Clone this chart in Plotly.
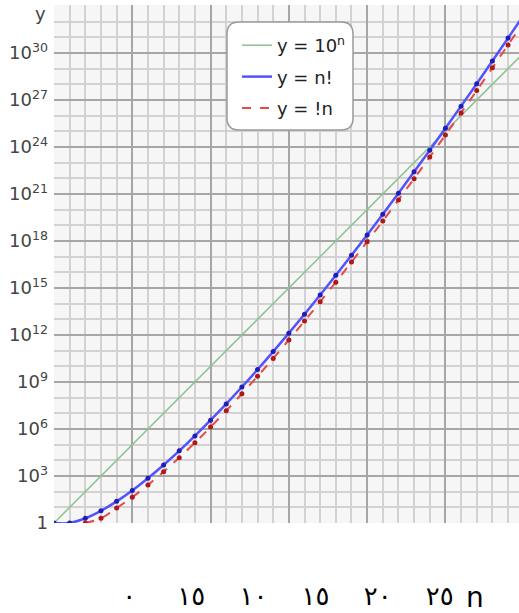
import plotly.graph_objects as go

# ---------------- data ----------------
n_vals = list(range(0, 32))
pow10_vals = [1e0, 1e1, 1e2, 1e3, 1e4, 1e5, 1e6, 1e7, 1e8, 1e9, 1e10, 1e11, 1e12, 1e13, 1e14, 1e15,
              1e16, 1e17, 1e18, 1e19, 1e20, 1e21, 1e22, 1e23, 1e24, 1e25, 1e26, 1e27, 1e28, 1e29, 1e30, 1e31]
factorial_vals = [1, 1, 2, 6, 24, 120, 720, 5040, 40320, 362880, 3628800, 39916800, 479001600,
                  6227020800, 87178291200, 1.307674368e12, 2.0922789888e13, 3.55687428096e14,
                  6.402373705728e15, 1.21645100408832e17, 2.43290200817664e18, 5.109094217170944e19,
                  1.1240007277776077e21, 2.585201673888498e22, 6.204484017332394e23,
                  1.5511210043330986e25, 4.0329146112660565e26, 1.0888869450418352e28,
                  3.0488834461171384e29, 8.841761993739701e30, 2.652528598121911e32,
                  8.222838654177922e33]
subfact_n = list(range(2, 32))
subfact_vals = [1, 2, 9, 44, 265, 1854, 14833, 133496, 1334961, 14684570, 176214841, 2290792932,
                32071101049, 481066515734, 7697064251745, 130850092279664, 2355301661033953,
                44750731559645106, 895014631192902121, 1.879530725505094e19, 4.134967596111206e20,
                9.510425471055775e21, 2.282502113053386e23, 5.706255282633465e24,
                1.483626373484701e26, 4.005791208408693e27, 1.1216215383544341e29,
                3.2527024612278588e30, 9.758107383683576e31, 3.0250132889419087e33]

y_tick_vals = [1, 1e3, 1e6, 1e9, 1e12, 1e15, 1e18, 1e21, 1e24, 1e27, 1e30]
y_tick_text = ["1", "10<sup>3</sup>", "10<sup>6</sup>", "10<sup>9</sup>", "10<sup>12</sup>",
               "10<sup>15</sup>", "10<sup>18</sup>", "10<sup>21</sup>", "10<sup>24</sup>",
               "10<sup>27</sup>", "10<sup>30</sup>"]
y_minor_vals = [10.0 ** k for k in range(0, 34)]
x_label_vals = [0, 5, 10, 15, 20, 25]
x_label_text = ["٠", "١٥", "١٠", "١٥", "٢٠", "٢٥"]
legend_names = ["y = 10<sup>n</sup>", "y = n!", "y = !n"]

# ---------------- geometry (page px; body margin removed in page) ----------------
W, H = 519, 613
ml, mr, mt, mb = 54, 0, 5, 35
pw, ph = W - ml - mr, H - mt - mb

def px_x(p):
    return (p - ml) / pw

def px_y(p):
    return (H - mb - p) / ph

plot_bottom_px = 523

# ---------------- figure ----------------
fig = go.Figure()
fig.add_trace(go.Scatter(x=n_vals, y=pow10_vals, mode="lines", name=legend_names[0],
                         legendgroup="a", line=dict(color="#8fc28f", width=1.5)))
fig.add_trace(go.Scatter(x=n_vals, y=factorial_vals, mode="lines", name=legend_names[1],
                         legendgroup="b", line=dict(color="#5252ff", width=2.5, shape="spline")))
fig.add_trace(go.Scatter(x=n_vals, y=factorial_vals, mode="markers", showlegend=False,
                         legendgroup="b", marker=dict(color="#1f1fb8", size=5)))
fig.add_trace(go.Scatter(x=subfact_n, y=subfact_vals, mode="lines", name=legend_names[2],
                         legendgroup="c", line=dict(color="#e84848", width=2, dash="dash", shape="spline")))
fig.add_trace(go.Scatter(x=subfact_n, y=subfact_vals, mode="markers", showlegend=False,
                         legendgroup="c", marker=dict(color="#b01818", size=5)))
# carrier for the lower label axis
fig.add_trace(go.Scatter(x=[], y=[], xaxis="x2", showlegend=False, hoverinfo="skip"))

fig.update_layout(
    width=W, height=H,
    margin=dict(l=ml, r=mr, t=mt, b=mb),
    paper_bgcolor="white",
    plot_bgcolor="#f6f6f6",
    font=dict(family="DejaVu Sans", color="#444"),
    showlegend=True,
    legend=dict(x=px_x(237), y=px_y(27), xanchor="left", yanchor="top",
                bgcolor="rgba(0,0,0,0)", borderwidth=0,
                font=dict(size=18, color="#222", family="DejaVu Sans"),
                tracegroupgap=5, itemwidth=30),
    xaxis=dict(domain=[0, 1], range=[0, 29.7], showticklabels=False, ticks="",
               dtick=5, tick0=0, showgrid=True, gridcolor="#a6a6a6", gridwidth=1.5,
               minor=dict(dtick=1, tick0=0, showgrid=True, gridcolor="#d2d2d2", gridwidth=1.5),
               zeroline=False, showline=False),
    xaxis2=dict(overlaying="x", anchor="free", position=0, side="bottom",
                range=[-6.05, 31.37], tickmode="array", tickvals=x_label_vals, ticktext=x_label_text,
                showgrid=False, zeroline=False, showline=False, ticks="",
                tickfont=dict(size=26, color="black", family="DejaVu Sans")),
    yaxis=dict(type="log", domain=[px_y(plot_bottom_px), 1], range=[0, 33.06],
               tickmode="array", tickvals=y_tick_vals, ticktext=y_tick_text,
               tickfont=dict(size=18, color="#444"), ticks="", ticklabelstandoff=5,
               showgrid=True, gridcolor="#a6a6a6", gridwidth=1.5,
               minor=dict(tickmode="array", tickvals=y_minor_vals, showgrid=True,
                          gridcolor="#d2d2d2", gridwidth=1.5),
               zeroline=False, showline=False),
)

# rounded legend frame
x0, x1 = px_x(227), px_x(353)
y0, y1 = px_y(130), px_y(22)
rx, ry = 12 / pw, 12 / ph
path = (f"M {x0+rx},{y0} L {x1-rx},{y0} Q {x1},{y0} {x1},{y0+ry} "
        f"L {x1},{y1-ry} Q {x1},{y1} {x1-rx},{y1} L {x0+rx},{y1} Q {x0},{y1} {x0},{y1-ry} "
        f"L {x0},{y0+ry} Q {x0},{y0} {x0+rx},{y0} Z")
fig.add_shape(type="path", path=path, xref="paper", yref="paper",
              fillcolor="white", line=dict(color="#9a9a9a", width=1.5), layer="above")

fig.add_annotation(text="y", xref="paper", yref="paper", x=px_x(40), y=px_y(14),
                   xanchor="center", yanchor="middle",
                   showarrow=False, font=dict(size=18, color="#444"))
fig.add_annotation(text="n", xref="paper", yref="paper", x=px_x(475), y=px_y(597),
                   xanchor="center", yanchor="middle",
                   showarrow=False, font=dict(size=28, color="black", family="DejaVu Sans"))

fig.write_html("out.html", config={"displayModeBar": False},
               post_script="document.body.style.margin='0';")
